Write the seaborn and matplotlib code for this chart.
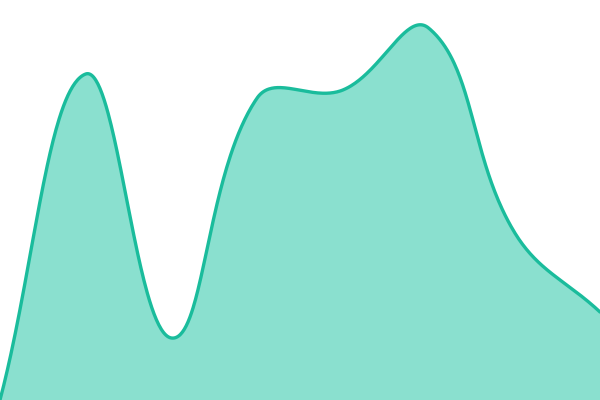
import numpy as np
import pandas as pd
import seaborn as sns
import matplotlib
matplotlib.use("Agg")
import matplotlib.pyplot as plt

# data points (evenly spaced categories), values on a 0-400 scale
positions = [0, 1, 2, 3, 4, 5, 6, 7]
values = [0, 326, 62, 302, 310, 372, 168, 88]

LINE = "#1abc9c"
FILL = "#8ae0cf"
TENSION = 0.4


def spline_curve(pts, tension=TENSION, steps=80):
    # bezier spline with distance-weighted control points (display space)
    pts = np.asarray(pts, float)
    n = len(pts)
    ctrl_prev = pts.copy()
    ctrl_next = pts.copy()
    for i in range(n):
        prev = pts[max(i - 1, 0)]
        cur = pts[i]
        nxt = pts[min(i + 1, n - 1)]
        d01 = np.hypot(*(cur - prev))
        d12 = np.hypot(*(nxt - cur))
        tot = d01 + d12
        fa = tension * d01 / tot if tot else 0
        fb = tension * d12 / tot if tot else 0
        ctrl_prev[i] = cur - fa * (nxt - prev)
        ctrl_next[i] = cur + fb * (nxt - prev)
    out = []
    for i in range(n - 1):
        t = np.linspace(0, 1, steps, endpoint=(i == n - 2))[:, None]
        p0, p1, p2, p3 = pts[i], ctrl_next[i], ctrl_prev[i + 1], pts[i + 1]
        out.append((1 - t) ** 3 * p0 + 3 * (1 - t) ** 2 * t * p1
                   + 3 * (1 - t) * t ** 2 * p2 + t ** 3 * p3)
    return np.vstack(out)


sns.set_theme(style="white")
fig = plt.figure(figsize=(6, 4), dpi=100)
ax = fig.add_axes([0, 0, 1, 1])
ax.set_xlim(positions[0], positions[-1])
ax.set_ylim(0, 400)

disp = ax.transData.transform(np.column_stack([positions, values]))
curve = ax.transData.inverted().transform(spline_curve(disp))
df = pd.DataFrame({"x": curve[:, 0], "y": curve[:, 1]})

ax.fill_between(df["x"], df["y"], 0, color=FILL, linewidth=0)
sns.lineplot(data=df, x="x", y="y", ax=ax, color=LINE, linewidth=2.4, sort=False)
ax.set_xlim(positions[0], positions[-1])
ax.set_ylim(0, 400)
ax.axis("off")
fig.savefig("out.png", dpi=100)
